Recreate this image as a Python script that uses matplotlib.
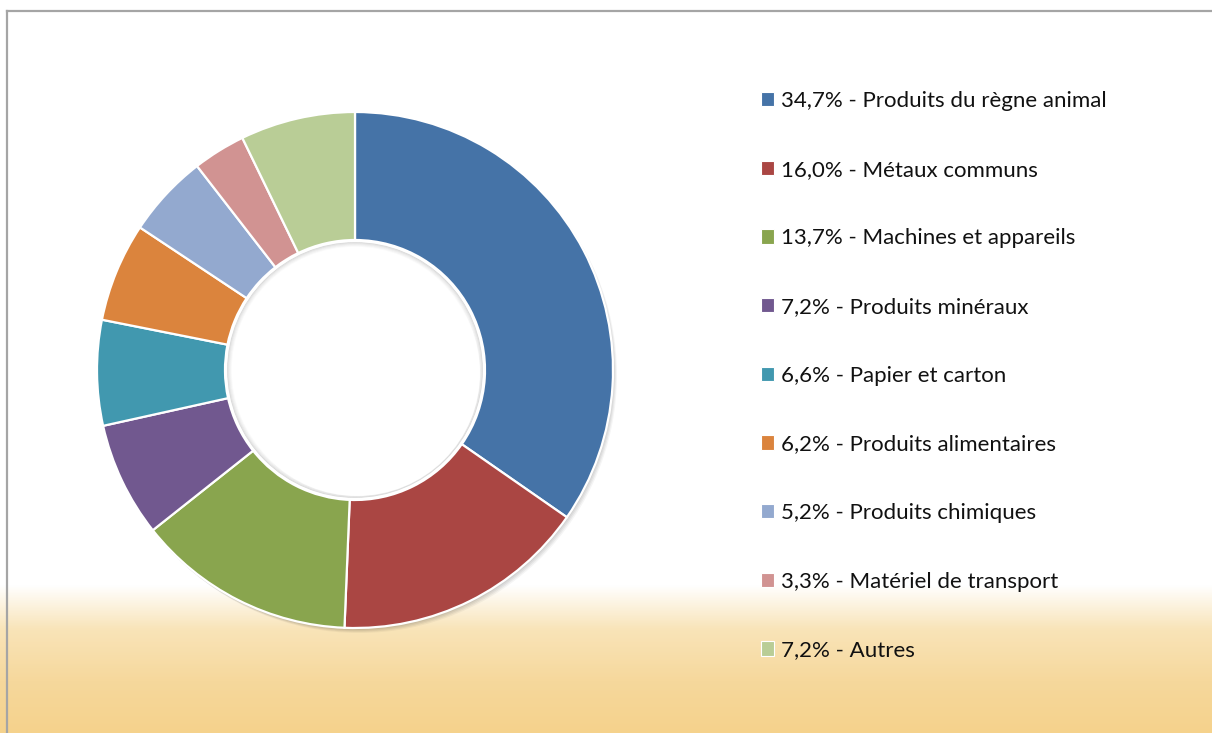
import numpy as np
import matplotlib.pyplot as plt
from matplotlib.colors import LinearSegmentedColormap
from matplotlib.patches import Circle, Rectangle
from matplotlib.lines import Line2D

# ── Données ───────────────────────────────────────────────────────────────────

categories = ["Produits du règne animal", "Métaux communs", "Machines et appareils",
              "Produits minéraux", "Papier et carton", "Produits alimentaires",
              "Produits chimiques", "Matériel de transport", "Autres"]
shares = [34.7, 16.0, 13.7, 7.2, 6.6, 6.2, 5.2, 3.3, 7.2]
colors = ["#4573a7", "#aa4643", "#89a54e", "#71588f", "#4198af",
          "#db843d", "#93a9cf", "#d19392", "#b9cd96"]

labels = [f"{v:.1f}".replace(".", ",") + f"% - {c}" for v, c in zip(shares, categories)]

# ── Figure (1 unité = 1 pixel) ───────────────────────────────────────────────

W, H = 1212, 733
fig = plt.figure(figsize=(W / 100, H / 100), dpi=100)
ax = fig.add_axes([0, 0, 1, 1])

# fond : blanc puis dégradé doré en bas
grad = LinearSegmentedColormap.from_list(
    "bg", [(0.0, "#ffffff"), (0.3, "#f9e4b8"), (0.65, "#f6d89c"), (1.0, "#f5d28c")])
g = np.linspace(0, 1, 256).reshape(-1, 1)
ax.imshow(g, cmap=grad, extent=(0, W, 0, 148), aspect="auto", zorder=0)

# cadre gris
ax.add_line(Line2D([7, 7], [0, H - 10.5], color="#a5a5a5", lw=1.6, zorder=1))
ax.add_line(Line2D([7, W], [H - 10.5, H - 10.5], color="#a5a5a5", lw=1.6, zorder=1))

cx, cy = 355, H - 370
r_out, r_in = 258, 130

# ombre légère
for i, a in enumerate([0.05, 0.05, 0.05, 0.04]):
    ax.add_patch(Circle((cx + 1 + i, cy - 2 - i), r_out, color="black", alpha=a,
                        lw=0, zorder=2))

wedges, _ = ax.pie(shares, colors=colors, startangle=90, counterclock=False,
                   center=(cx, cy), radius=r_out,
                   wedgeprops=dict(width=r_out - r_in, edgecolor="white", linewidth=1.6),
                   frame=True)
for w in wedges:
    w.set_zorder(3)

# trou central avec ombre intérieure
ax.add_patch(Circle((cx, cy), r_in - 1, color="white", lw=0, zorder=4))
for i, a in enumerate([0.10, 0.07, 0.05, 0.03, 0.02]):
    ax.add_patch(Circle((cx, cy), r_in - 2 - i, fill=False, edgecolor="black",
                        alpha=a, lw=1.2, zorder=5))
ax.add_patch(Circle((cx + 2, cy - 3), r_in - 7, color="white", lw=0, zorder=6))
ax.add_patch(Circle((cx, cy), r_in - 1, fill=False, edgecolor="white", lw=1.6, zorder=7))

ax.set_xlim(0, W)
ax.set_ylim(0, H)
ax.set_aspect("auto")
ax.axis("off")

# légende
handles = [Rectangle((0, 0), 1, 1, facecolor=c, edgecolor="white", lw=0.8) for c in colors]
leg = ax.legend(handles, labels, loc="upper left", bbox_to_anchor=(761 / W, 1 - 91 / H),
                frameon=False, prop=dict(family="Lato", size=16),
                handlelength=0.6, handleheight=0.6, handletextpad=0.3,
                labelspacing=2.19, borderaxespad=0, borderpad=0)
for t in leg.get_texts():
    t.set_color("#111111")

fig.savefig("out.png", dpi=100)
